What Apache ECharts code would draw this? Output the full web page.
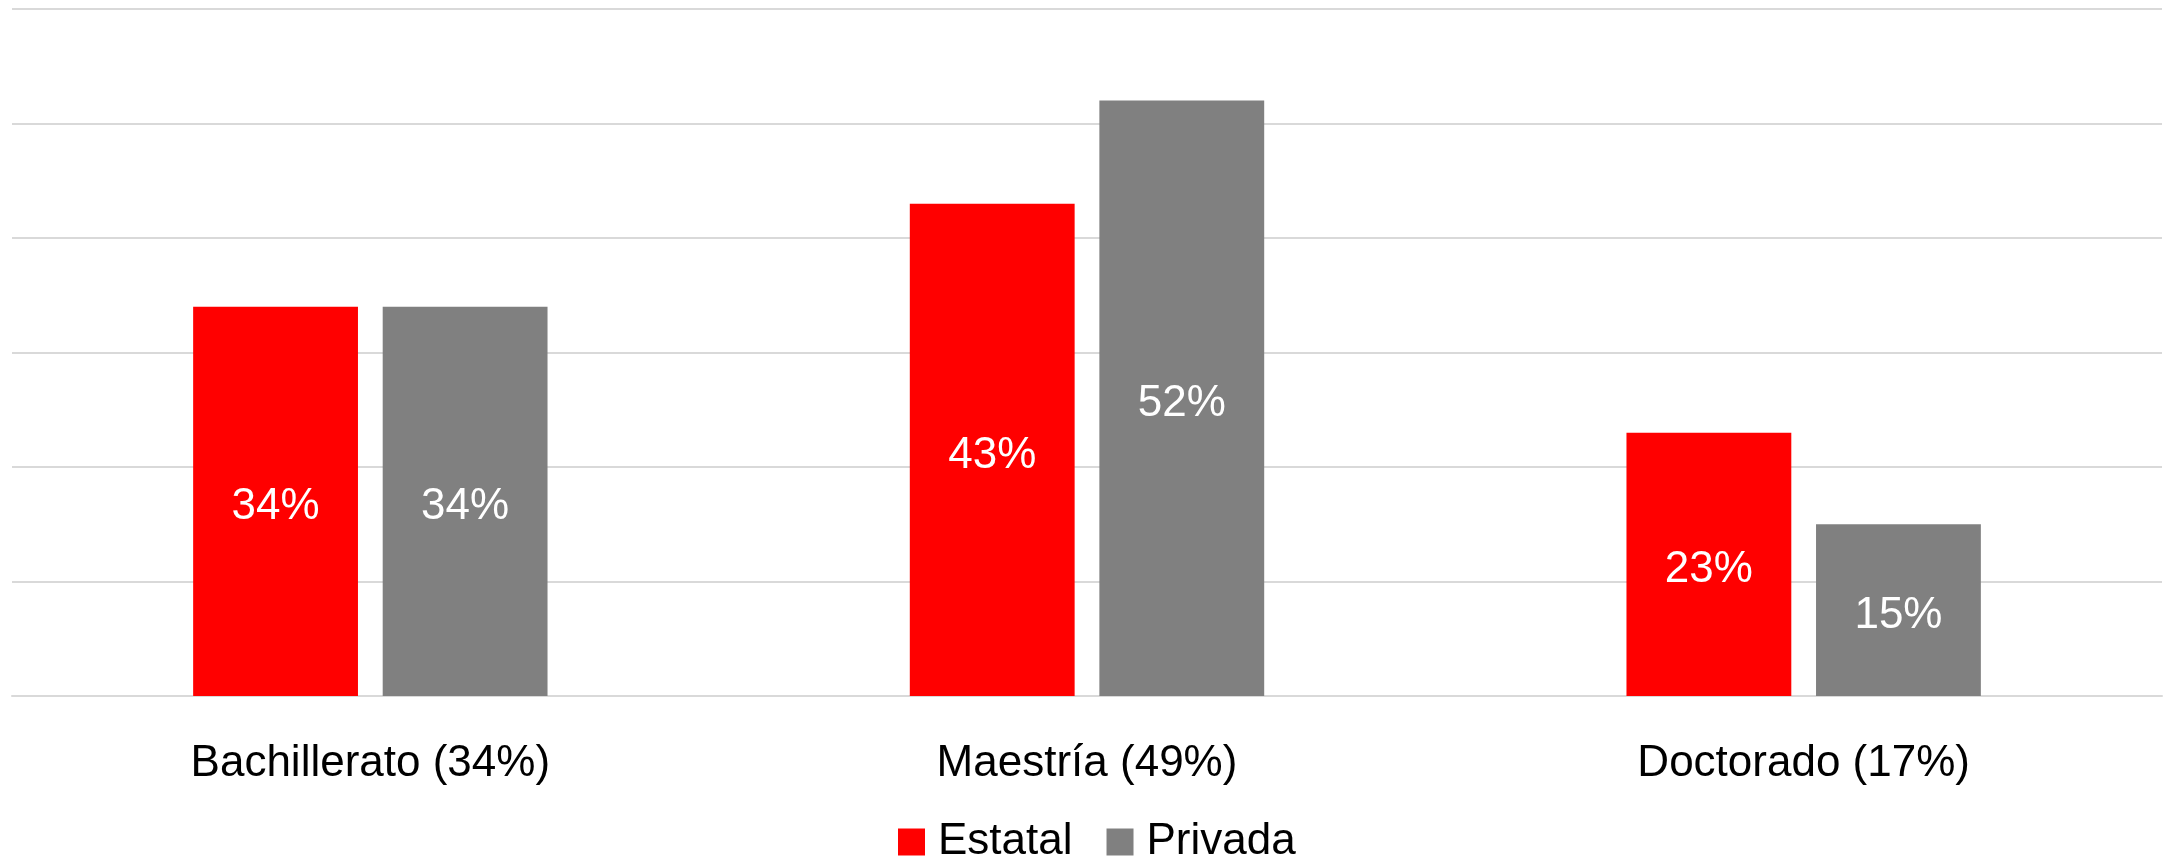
<!DOCTYPE html>
<html>
<head>
<meta charset="utf-8">
<script src="https://cdn.jsdelivr.net/npm/echarts@6/dist/echarts.min.js"></script>
<style>
html,body{margin:0;padding:0;background:#fff;}
#c{width:2163px;height:859px;}
</style>
</head>
<body>
<div id="c"></div>
<script>
const categories = ['Bachillerato (34%)', 'Maestría (49%)', 'Doctorado (17%)'];
const seriesNames = ['Estatal', 'Privada'];
const estatal = [34, 43, 23];
const privada = [34, 52, 15];
const yTicks = [0, 10, 20, 30, 40, 50, 60];

const FONT = "'Liberation Sans', Arial, sans-serif";
const chart = echarts.init(document.getElementById('c'), null, {renderer: 'canvas'});
const labelCfg = {
  show: true, position: 'inside', color: '#ffffff', offset: [0, 6],
  fontFamily: FONT, fontSize: 44, formatter: '{c}%'
};
chart.setOption({
  animation: false,
  backgroundColor: '#ffffff',
  grid: {left: 12, right: 1, top: 9, bottom: 163, containLabel: false},
  legend: {
    data: seriesNames,
    left: 898, top: 820, padding: 0,
    itemWidth: 27, itemHeight: 27, itemGap: 34,
    icon: 'rect',
    textStyle: {fontFamily: FONT, fontSize: 44, color: '#000000', padding: [0, 0, 0, 8]}
  },
  xAxis: {
    type: 'category',
    data: categories,
    axisTick: {show: false},
    axisLine: {show: true, lineStyle: {color: '#d9d9d9', width: 2}},
    axisLabel: {fontFamily: FONT, fontSize: 44, color: '#000000', margin: 46}
  },
  yAxis: {
    type: 'value',
    min: yTicks[0], max: yTicks[yTicks.length - 1], interval: 10,
    axisLabel: {show: false},
    axisLine: {show: false},
    axisTick: {show: false},
    splitLine: {show: true, lineStyle: {color: '#d9d9d9', width: 2}}
  },
  series: [
    {name: seriesNames[0], type: 'bar', data: estatal, barWidth: '23%', barGap: '15%',
     itemStyle: {color: '#ff0000'}, label: labelCfg},
    {name: seriesNames[1], type: 'bar', data: privada, barWidth: '23%', barGap: '15%',
     itemStyle: {color: '#808080'}, label: labelCfg}
  ]
});
</script>
</body>
</html>
